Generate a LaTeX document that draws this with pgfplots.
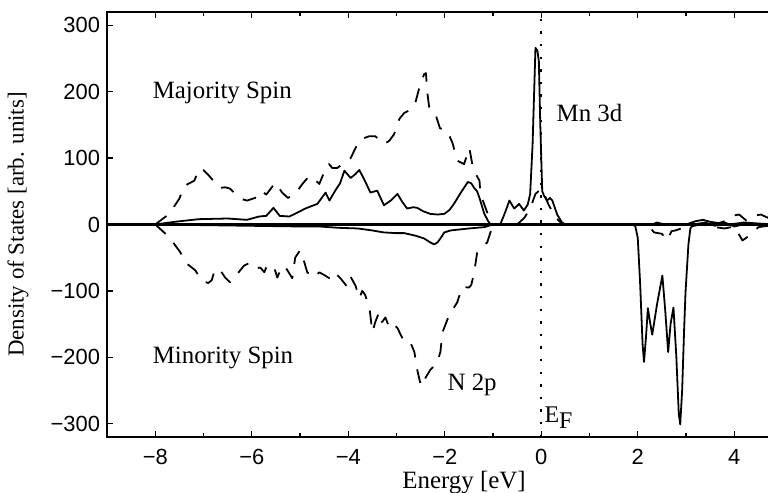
\documentclass[border=0pt]{standalone}
\usepackage{fontspec}
\setmainfont{Liberation Serif}
\setsansfont{Liberation Sans}
\usepackage{pgfplots}
\pgfplotsset{compat=1.18}

\begin{document}
\begin{tikzpicture}
\begin{axis}[
    scale only axis,
    width=337.75bp, height=212.5bp,
    xmin=-9, xmax=5, ymin=-320, ymax=320,
    xtick={-8,-6,...,4}, xticklabels={−8,−6,−4,−2,0,2,4},
    ytick={-300,-200,...,300}, yticklabels={−300,−200,−100,0,100,200,300},
    minor x tick num=1,
    tick align=inside,
    major tick length=3bp, minor tick length=2bp,
    tick style={line width=0.7pt, black},
    axis line style={line width=0.8pt},
    ticklabel style={font=\sffamily\fontsize{11}{12}\selectfont},
    xticklabel style={yshift=-2.5bp},
    xlabel={Energy [eV]},
    ylabel={Density of States [arb. units]},
    xlabel style={font=\fontsize{12.5}{14}\selectfont, at={(axis description cs:0.5285,-0.121)}, anchor=base},
    ylabel style={font=\fontsize{11.5}{13}\selectfont, at={(axis description cs:-0.1318,0.5)}, anchor=center},
    clip=true,
]
% zero line and Fermi level
\addplot[black, line width=1.1pt] coordinates {(-9,0) (5,0)};
\addplot[black, line width=1pt, dash pattern=on 1.2bp off 5.1bp] coordinates {(0,-320) (0,320)};

% Mn 3d, majority
\addplot[black, line width=0.9pt, line join=round] coordinates {
(-8.0,0) (-7.6,4) (-7.1,8) (-6.5,9) (-6.1,7) (-5.85,12) (-5.7,13) (-5.55,25)
(-5.42,13) (-5.22,12) (-5.05,18) (-4.89,24) (-4.75,28) (-4.64,31) (-4.55,40)
(-4.47,48) (-4.39,36) (-4.27,51) (-4.17,62) (-4.08,81) (-3.95,70) (-3.85,76)
(-3.77,82) (-3.65,65) (-3.54,48) (-3.4,51) (-3.26,29) (-3.12,36) (-2.98,46)
(-2.88,34) (-2.78,24) (-2.65,26) (-2.57,25) (-2.45,20) (-2.3,16) (-2.15,15)
(-2.01,16) (-1.9,22) (-1.81,31) (-1.65,50) (-1.52,64) (-1.45,62) (-1.39,55)
(-1.33,50) (-1.28,40) (-1.18,16) (-1.1,5) (-1.05,0) (-0.85,0) (-0.75,18)
(-0.66,36) (-0.56,24) (-0.5,28) (-0.46,31) (-0.36,21) (-0.28,30) (-0.23,46)
(-0.18,120) (-0.12,266) (-0.08,262) (-0.05,246) (-0.02,150) (0.02,50)
(0.06,43) (0.12,36) (0.18,40) (0.23,36) (0.33,15) (0.43,3) (0.5,0) (2.3,0)
(2.4,3) (2.5,1) (2.7,0) (3.0,0) (3.2,5) (3.35,7) (3.5,4) (3.7,2) (3.9,0)
(4.2,3) (4.6,1) (5,0)
};

% Mn 3d, minority
\addplot[black, line width=0.9pt, line join=round] coordinates {
(-8.0,0) (-7.0,-1) (-6.0,-2) (-5.0,-3) (-4.6,-3) (-4.2,-5) (-3.8,-6) (-3.5,-9)
(-3.26,-12) (-3.0,-13) (-2.84,-13) (-2.6,-17) (-2.43,-21) (-2.3,-27)
(-2.22,-30) (-2.15,-27) (-2.08,-20) (-2.01,-12) (-1.88,-9) (-1.5,-6)
(-1.18,-4) (-1.0,0) (1.9,0) (1.95,-3) (2.0,-20) (2.05,-90) (2.1,-180)
(2.13,-207) (2.17,-170) (2.21,-126) (2.25,-145) (2.3,-166) (2.4,-120)
(2.51,-77) (2.57,-130) (2.63,-192) (2.68,-150) (2.74,-125) (2.8,-200)
(2.85,-285) (2.88,-301) (2.92,-250) (2.96,-160) (2.99,-102) (3.05,-30)
(3.09,-6) (3.15,0) (3.4,3) (3.6,-2) (3.8,3) (4.0,-3) (4.3,2) (4.6,-2) (5,0)
};

% N 2p, majority
\addplot[black, line width=0.9pt, line join=round, dash pattern=on 7bp off 6bp] coordinates {
(-8.0,0) (-7.71,16) (-7.5,39) (-7.4,58) (-7.19,66) (-7.09,84) (-7.0,82)
(-6.88,73) (-6.67,55) (-6.55,56) (-6.45,54) (-6.24,39) (-6.1,36) (-5.93,40)
(-5.8,51) (-5.7,45) (-5.51,63) (-5.37,48) (-5.25,40) (-5.1,46) (-4.95,61)
(-4.81,73) (-4.7,68) (-4.6,61) (-4.47,84) (-4.4,91) (-4.33,85) (-4.23,85)
(-4.08,93) (-3.95,100) (-3.85,115) (-3.75,128) (-3.56,133) (-3.44,133)
(-3.26,121) (-3.15,126) (-3.05,136) (-2.94,159) (-2.84,168) (-2.73,172)
(-2.63,178) (-2.53,205) (-2.43,226) (-2.39,228) (-2.36,198) (-2.32,175)
(-2.2,168) (-2.1,145) (-1.95,141) (-1.84,123) (-1.74,96) (-1.6,91)
(-1.49,115) (-1.43,91) (-1.35,75) (-1.28,66) (-1.26,46) (-1.12,18)
(-1.02,0) (-0.5,0) (-0.35,10) (-0.23,24) (-0.12,46) (0.0,54) (0.06,46)
(0.15,30) (0.3,10) (0.45,0) (3.6,0) (3.8,5) (3.95,13) (4.1,15) (4.25,6)
(4.4,13) (4.55,15) (4.7,10) (5,5)
};

% N 2p, minority
\addplot[black, line width=0.9pt, line join=round, dash pattern=on 7bp off 6bp] coordinates {
(-8.0,0) (-7.71,-19) (-7.48,-42) (-7.38,-57) (-7.17,-69) (-7.07,-81)
(-7.0,-86) (-6.9,-88) (-6.83,-84) (-6.78,-72) (-6.68,-66) (-6.55,-80)
(-6.45,-87) (-6.36,-80) (-6.25,-70) (-6.16,-62) (-6.05,-58) (-5.95,-66)
(-5.82,-65) (-5.74,-72) (-5.68,-61) (-5.6,-62) (-5.53,-66) (-5.47,-80)
(-5.41,-69) (-5.33,-62) (-5.26,-69) (-5.16,-81) (-5.1,-50) (-5.0,-39)
(-4.95,-47) (-4.85,-72) (-4.72,-80) (-4.6,-72) (-4.5,-76) (-4.39,-81)
(-4.29,-72) (-4.15,-82) (-4.02,-94) (-3.95,-79) (-3.85,-92) (-3.77,-111)
(-3.71,-100) (-3.65,-106) (-3.56,-126) (-3.5,-162) (-3.44,-147) (-3.36,-132)
(-3.3,-147) (-3.23,-140) (-3.15,-155) (-3.06,-150) (-2.98,-156) (-2.84,-177)
(-2.71,-178) (-2.63,-192) (-2.57,-219) (-2.5,-241) (-2.45,-243) (-2.4,-231)
(-2.3,-219) (-2.16,-208) (-2.09,-192) (-2.05,-163) (-1.95,-144) (-1.85,-130)
(-1.74,-117) (-1.64,-94) (-1.5,-95) (-1.45,-91) (-1.39,-72) (-1.33,-43)
(-1.2,-32) (-1.12,-27) (-1.0,0) (2.2,0) (2.34,-12) (2.5,-14) (2.61,-24)
(2.7,-10) (2.78,-9) (2.9,-6) (3.0,-8) (3.1,-3) (3.3,0) (3.6,-4) (3.8,-6)
(4.0,-3) (4.17,-24) (4.33,-16) (4.5,-4) (4.7,-2) (5,0)
};

\node[anchor=west, inner sep=0pt, font=\fontsize{12.5}{14}\selectfont] at (axis cs:-8.06,198) {Majority Spin};
\node[anchor=west, inner sep=0pt, font=\fontsize{12.5}{14}\selectfont] at (axis cs:-8.06,-201) {Minority Spin};
\node[anchor=west, inner sep=0pt, font=\fontsize{12.5}{14}\selectfont] at (axis cs:0.31,168) {Mn 3d};
\node[anchor=west, inner sep=0pt, font=\fontsize{12.5}{14}\selectfont] at (axis cs:-1.95,-241) {N 2p};
\node[anchor=base west, inner sep=0pt, font=\fontsize{12}{14}\selectfont] at (axis cs:0.06,-298) {E\raisebox{-0.55ex}{F}};
\end{axis}
\pgfresetboundingbox
\path[use as bounding box] ([xshift=-53.5bp,yshift=-28bp]current axis.south west) rectangle ([xshift=-7.25bp,yshift=6bp]current axis.north east);
\end{tikzpicture}
\end{document}
